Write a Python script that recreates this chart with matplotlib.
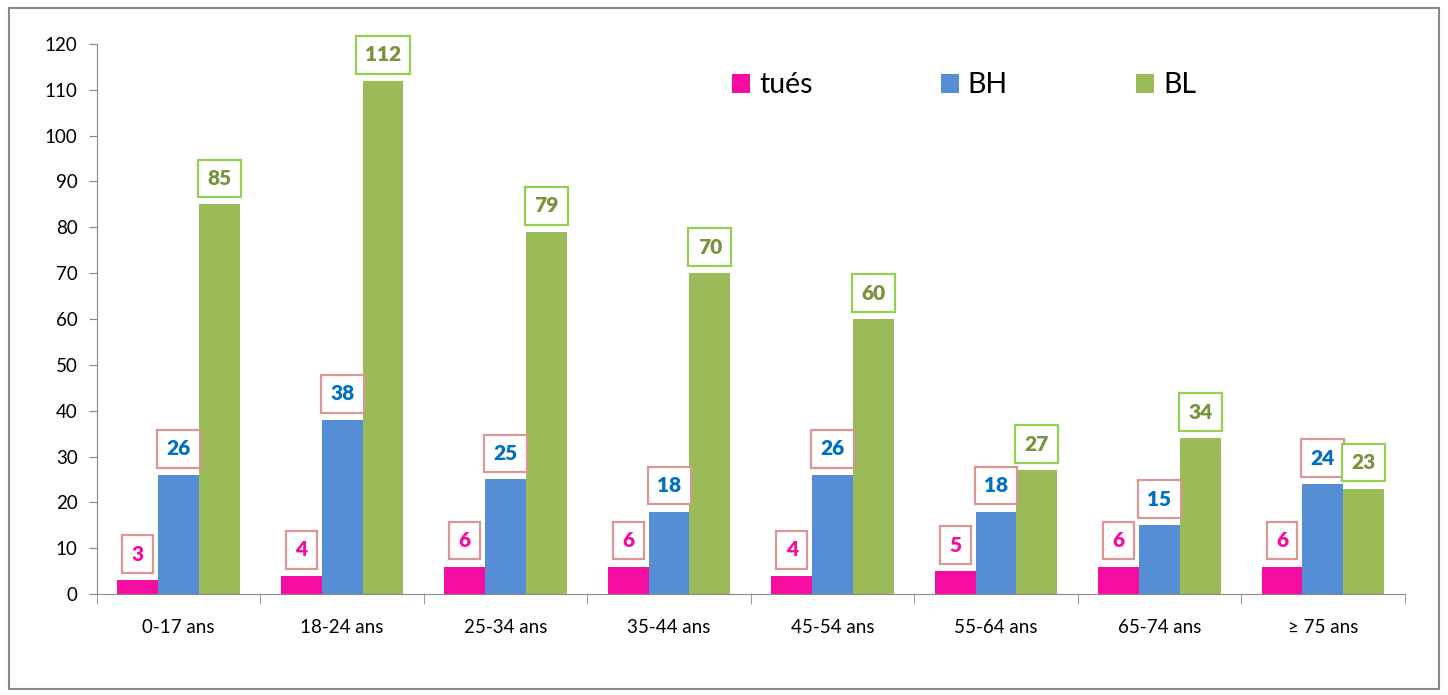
import numpy as np
import matplotlib.pyplot as plt
from matplotlib.patches import Rectangle

plt.rcParams['font.family'] = ['Lato', 'DejaVu Sans']

# --- Data ---
categories = ["0-17 ans", "18-24 ans", "25-34 ans", "35-44 ans",
              "45-54 ans", "55-64 ans", "65-74 ans", "≥ 75 ans"]
tues = [3, 4, 6, 6, 4, 5, 6, 6]
bh = [26, 38, 25, 18, 26, 18, 15, 24]
bl = [85, 112, 79, 70, 60, 27, 34, 23]

series = [
    ("tués", tues, "#f50ca0", "#f50ca0", "#d99694"),
    ("BH", bh, "#558ed5", "#0070c0", "#d99694"),
    ("BL", bl, "#9bbb59", "#77933c", "#92d050"),
]

fig = plt.figure(figsize=(14.48, 6.95), dpi=100)
ax = fig.add_axes([0.067, 0.1453, 0.903, 0.7914])

x = np.arange(len(categories))
w = 0.25
for i, (name, vals, col, tcol, ecol) in enumerate(series):
    pos = x + (i - 1) * w
    ax.bar(pos, vals, width=w, color=col, label=name)
    for xp, v in zip(pos, vals):
        ax.annotate(str(v), (xp, v), xytext=(0, 26), textcoords="offset pixels",
                    ha="center", va="center", fontsize=15, fontweight="heavy",
                    color=tcol,
                    bbox=dict(boxstyle="square,pad=0.45", fc="white", ec=ecol, lw=1.6))

ax.set_xlim(-0.5, len(categories) - 0.5)
ax.set_ylim(0, 120)
ax.set_yticks(range(0, 121, 10))
ax.set_xticks(x)
ax.set_xticklabels(categories)
ax.set_xticks(np.arange(-0.5, len(categories)), minor=True)
ax.tick_params(axis="x", which="major", length=0, labelsize=13.5, pad=18)
ax.tick_params(axis="x", which="minor", length=7, color="#888888")
ax.tick_params(axis="y", length=6, color="#888888", labelsize=13.5, pad=8)

for s in ["top", "right"]:
    ax.spines[s].set_visible(False)
for s in ["left", "bottom"]:
    ax.spines[s].set_color("#888888")

ax.legend(loc="upper left", bbox_to_anchor=(0.466, 0.995), ncol=3, frameon=False,
          fontsize=20.5, handlelength=0.65, handleheight=0.65, handletextpad=0.3,
          columnspacing=4.5)

fig.patches.append(Rectangle((0.006, 0.008), 0.988, 0.98, transform=fig.transFigure,
                             fill=False, ec="#888888", lw=1.5))

fig.savefig("out.png", dpi=100)
